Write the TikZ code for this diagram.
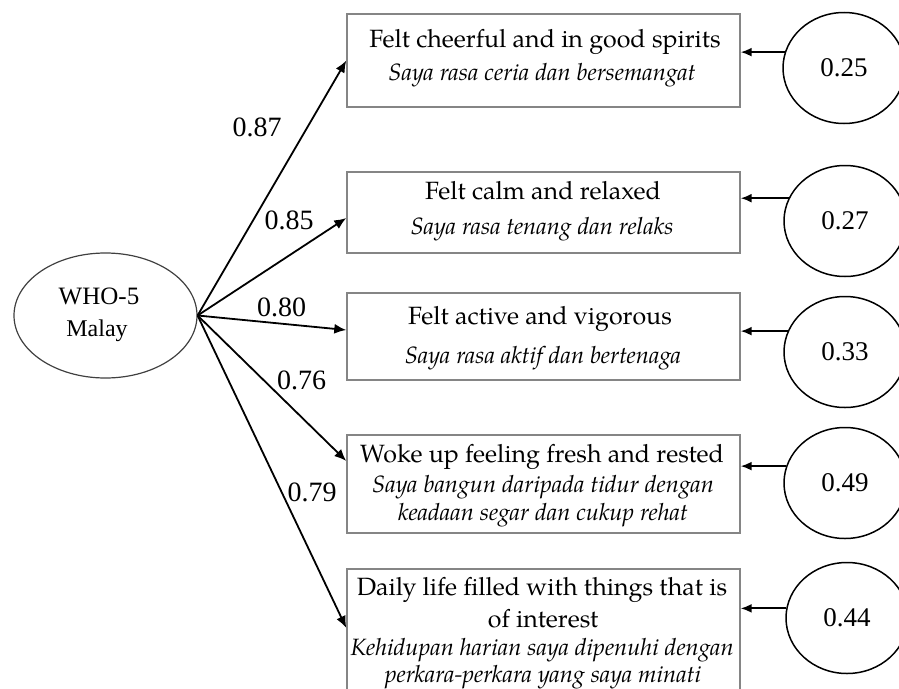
\documentclass[tikz,border=0pt]{standalone}
\usepackage{fontspec}
\setmainfont{Liberation Serif}
\newfontfamily\pal{TeX Gyre Pagella}
\usetikzlibrary{arrows.meta,calc,shapes.geometric}
\definecolor{boxgray}{HTML}{858585}
\begin{document}
\begin{tikzpicture}[x=1pt,y=-1pt,
  box/.style={draw=boxgray, line width=1.4pt, minimum width=393pt, inner sep=0pt},
  err/.style={ellipse, draw, line width=1.5pt, minimum width=122pt, minimum height=111pt, inner sep=0pt, font=\fontsize{27}{30}\selectfont},
  ld/.style={font=\fontsize{28}{30}\selectfont, inner sep=0pt},
  ttl/.style={font=\pal\fontsize{25}{30}\selectfont, anchor=base, inner sep=0pt},
  sub/.style={font=\pal\itshape\fontsize{23.6}{26}\selectfont, anchor=base, inner sep=0pt},
  ray/.style={-{Latex[length=12pt,width=10pt]}, line width=1.8pt},
  earrow/.style={-{Latex[length=11pt,width=9pt]}, line width=1.8pt}]
\useasboundingbox (0,0) rectangle (899,688);
% latent
\node[ellipse, draw=black!75, line width=1.2pt, minimum width=183pt, minimum height=125pt, inner sep=0pt] (who) at (105.5,315.5) {};
\node[font=\fontsize{25}{30}\selectfont, inner sep=0pt] (whoa) at (99,296) {WHO-5};
\node[font=\fontsize{24}{30}\selectfont, inner sep=0pt] (whob) at (97,331) {Malay};
% boxes
\node[box, minimum height=93pt] (b1) at (543.5,60.5) {};
\node[box, minimum height=81pt] (b2) at (543.5,212.5) {};
\node[box, minimum height=87pt] (b3) at (543.5,336.5) {};
\node[box, minimum height=98pt] (b4) at (543.5,484) {};
\node[box, minimum height=126pt] (b5) at (543.5,632) {};
% box texts
\node[ttl] (t1) at (545,47) {Felt cheerful and in good spirits};
\node[sub] (s1) at (542,80) {Saya rasa ceria dan bersemangat};
\node[ttl] (t2) at (543,199) {Felt calm and relaxed};
\node[sub] (s2) at (542,234) {Saya rasa tenang dan relaks};
\node[ttl] (t3) at (540,324) {Felt active and vigorous};
\node[sub] (s3) at (543,363) {Saya rasa aktif dan bertenaga};
\node[ttl] (t4) at (542,462) {Woke up feeling fresh and rested};
\node[sub] (s4a) at (543,492) {Saya bangun daripada tidur dengan};
\node[sub] (s4b) at (543,520) {keadaan segar dan cukup rehat};
\node[ttl] (t5a) at (542,595) {Daily life filled with things that is};
\node[ttl] (t5b) at (543,627) {of interest};
\node[sub] (s5a) at (542,655) {Kehidupan harian saya dipenuhi dengan};
\node[sub] (s5b) at (543,682) {perkara-perkara yang saya minati};
% loadings
\draw[ray] (who.east) -- (b1.west);
\draw[ray] (who.east) -- ([yshift=-5.5pt]b2.west);
\draw[ray] (who.east) -- ([yshift=6.5pt]b3.west);
\draw[ray] (who.east) -- ([yshift=23pt]b4.west);
\draw[ray] (who.east) -- ([yshift=4pt]b5.west);
\node[ld] (l1) at (257,127) {0.87};
\node[ld] (l2) at (289,220) {0.85};
\node[ld] (l3) at (281.5,307) {0.80};
\node[ld] (l4) at (301.5,380) {0.76};
\node[ld] (l5) at (312,492) {0.79};
% errors
\node[err] (c1) at (844,68) {0.25};
\node[err] (c2) at (845,221) {0.27};
\node[err] (c3) at (845,352) {0.33};
\node[err] (c4) at (845,483) {0.49};
\node[err] (c5) at (847,618) {0.44};
\draw[earrow] (c1.165) -- (c1.165 -| b1.east);
\draw[earrow] (c2.158) -- (c2.158 -| b2.east);
\draw[earrow] (c3.160) -- (c3.160 -| b3.east);
\draw[earrow] (c4.164) -- (c4.164 -| b4.east);
\draw[earrow] (c5.171) -- (c5.171 -| b5.east);
\end{tikzpicture}
\end{document}
